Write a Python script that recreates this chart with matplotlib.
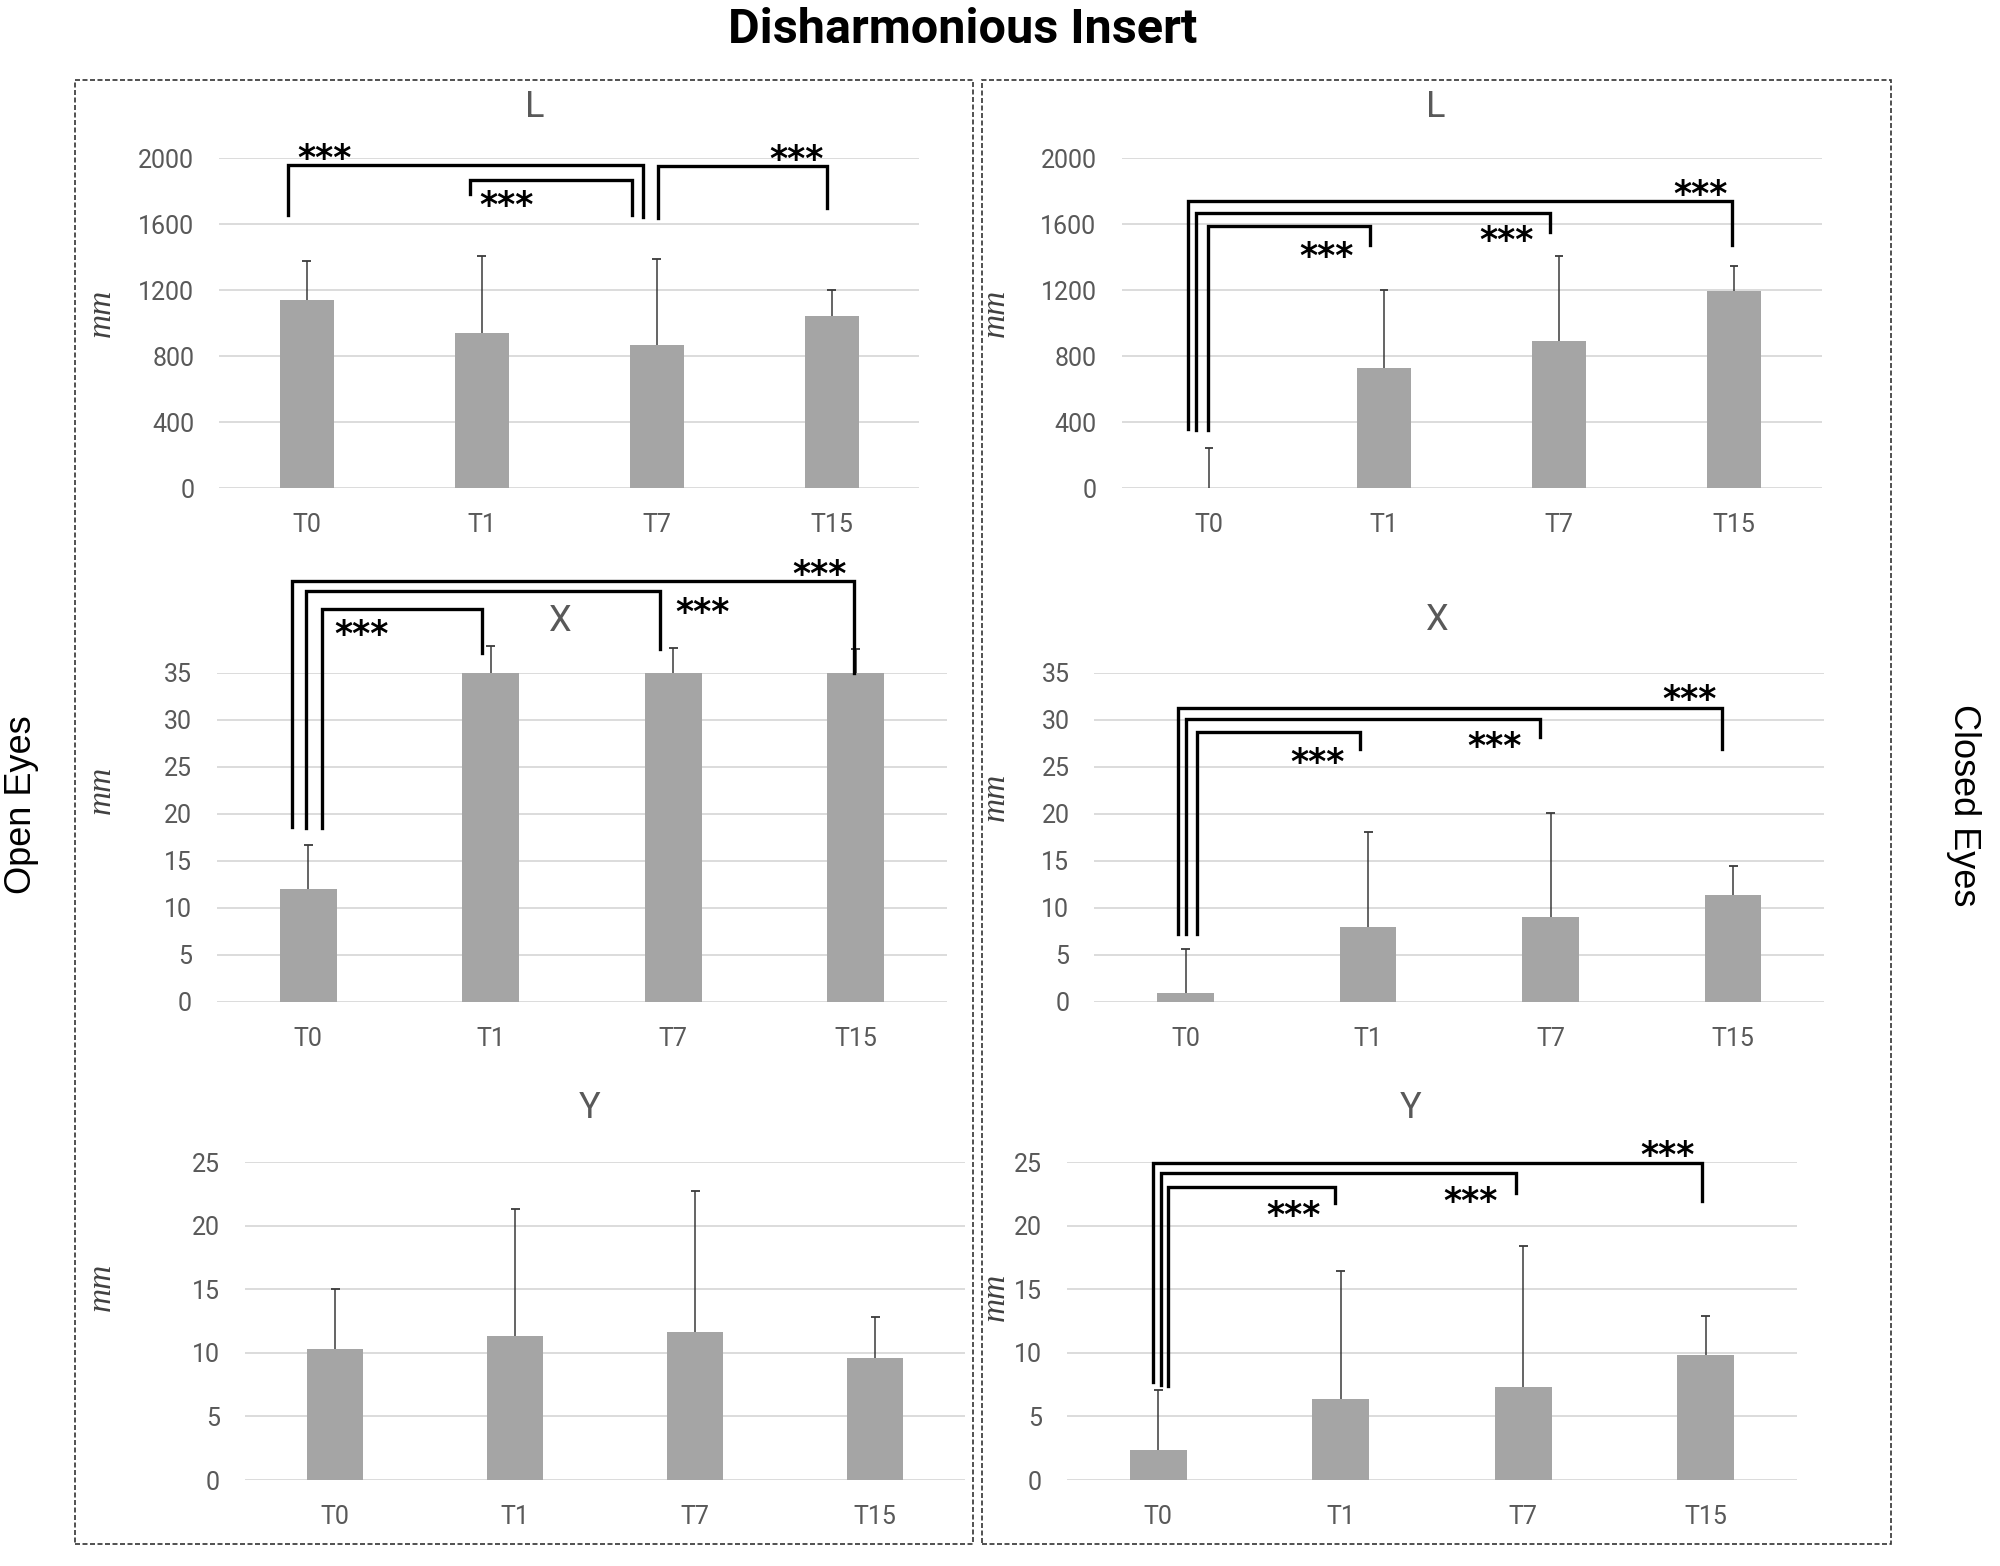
import matplotlib
matplotlib.use("Agg")
import matplotlib.pyplot as plt
from matplotlib import font_manager
from matplotlib.patches import Rectangle
import numpy as np

# categories
times = ["T0", "T1", "T7", "T15"]

# Open eyes (left column)
open_L_mean = [1140, 941, 871, 1046]
open_L_sd = [238, 470, 521, 156]
open_X_mean = [12.0, 35, 35, 35]
open_X_sd = [4.7, 2.9, 2.7, 2.5]
open_Y_mean = [10.3, 11.36, 11.6, 9.63]
open_Y_sd = [4.7, 9.94, 11.1, 3.17]

# Closed eyes (right column)
closed_L_mean = [0, 727, 894, 1196]
closed_L_sd = [242, 475, 517, 153]
closed_X_mean = [0.92, 7.98, 9.04, 11.4]
closed_X_sd = [4.68, 10.12, 11.02, 3.1]
closed_Y_mean = [2.36, 6.4, 7.3, 9.8]
closed_Y_sd = [4.69, 10.0, 11.1, 3.1]

# significance brackets: (x left, y left end, x right, y right end, y top)
open_L_brackets = [(-0.107, 1655, 1.92, 1645, 1960),
                   (0.934, 1784, 1.86, 1657, 1869),
                   (2.007, 1639, 2.97, 1697, 1954)]
open_L_stars = [(0.10, 2052), (1.14, 1770), (2.80, 2046)]
closed_L_brackets = [(-0.12, 361, 2.99, 1478, 1739),
                     (-0.072, 351, 1.95, 1551, 1672),
                     (-0.006, 351, 0.92, 1474, 1589)]
closed_L_stars = [(0.67, 1461), (1.70, 1557), (2.81, 1833)]
open_X_brackets = [(-0.088, 18.65, 2.99, 35.0, 44.8),
                   (-0.01, 18.5, 1.93, 37.6, 43.7),
                   (0.077, 18.5, 0.95, 37.1, 41.8)]
open_X_stars = [(0.29, 40.1), (2.16, 42.4), (2.80, 46.4)]
closed_X_brackets = [(-0.04, 7.2, 2.94, 26.95, 31.26),
                     (0.0, 7.2, 1.94, 28.2, 30.1),
                     (0.06, 7.2, 0.955, 26.9, 28.7)]
closed_X_stars = [(0.72, 26.4), (1.69, 28.1), (2.76, 33.1)]
closed_Y_brackets = [(-0.03, 7.7, 2.98, 21.9, 24.9),
                     (0.017, 7.5, 1.96, 22.6, 24.1),
                     (0.055, 7.4, 0.97, 21.75, 23.0)]
closed_Y_stars = [(0.74, 21.5), (1.71, 22.6), (2.79, 26.2)]

names = {f.name for f in font_manager.fontManager.ttflist}
narrow = "Liberation Sans Narrow" if "Liberation Sans Narrow" in names else "Roboto"

W, H = 2000, 1566
fig = plt.figure(figsize=(W / 100, H / 100), dpi=100)
fig.patch.set_facecolor("white")

TXT = "#595959"
BAR = "#a5a5a5"


def add_ax(x0, x1, ytop, ybot):
    return fig.add_axes([x0 / W, 1 - ybot / H, (x1 - x0) / W, (ybot - ytop) / H])


def panel(ax, means, sds, ymax, step, brackets=(), stars=()):
    x = np.arange(len(times))
    means = np.array(means, dtype=float)
    sds = np.array(sds, dtype=float)
    ax.bar(x, means, width=0.31, color=BAR, zorder=2)
    ax.vlines(x, means, means + sds, color="#3a3a3a", lw=1.1, zorder=3, clip_on=False)
    ax.hlines(means + sds, x - 0.025, x + 0.025, color="#3a3a3a", lw=1.3, zorder=3,
              clip_on=False)
    ax.set_xlim(-0.5, 3.5)
    ax.set_ylim(0, ymax)
    ax.set_yticks(np.arange(0, ymax + step / 2, step))
    ax.set_xticks(x)
    ax.set_xticklabels(times)
    ax.yaxis.grid(True, color="#d9d9d9", lw=1.3)
    ax.set_axisbelow(True)
    for s in ax.spines.values():
        s.set_visible(False)
    ax.tick_params(length=0, colors=TXT, labelsize=18)
    ax.tick_params(axis="y", pad=18)
    ax.tick_params(axis="x", pad=18)
    for lab in ax.get_xticklabels() + ax.get_yticklabels():
        lab.set_family(narrow)
    for x1, y1, x2, y2, top in brackets:
        ax.plot([x1, x1, x2, x2], [y1, top, top, y2], color="black", lw=2.4,
                clip_on=False, zorder=4, solid_joinstyle="miter")
    for sx, sy in stars:
        ax.annotate("***", xy=(sx, sy), xytext=(0, -14), textcoords="offset points",
                    ha="center", va="baseline", fontsize=25, color="black",
                    fontweight="bold", annotation_clip=False)


ax = add_ax(219.3, 919.3, 158.4, 488.3)
panel(ax, open_L_mean, open_L_sd, 2000, 400, open_L_brackets, open_L_stars)
ax = add_ax(1121.5, 1821.5, 158.4, 488.3)
panel(ax, closed_L_mean, closed_L_sd, 2000, 400, closed_L_brackets, closed_L_stars)
ax = add_ax(217, 947, 673, 1002)
panel(ax, open_X_mean, open_X_sd, 35, 5, open_X_brackets, open_X_stars)
ax = add_ax(1094.4, 1824.4, 673, 1002)
panel(ax, closed_X_mean, closed_X_sd, 35, 5, closed_X_brackets, closed_X_stars)
ax = add_ax(245, 965, 1162, 1480)
panel(ax, open_Y_mean, open_Y_sd, 25, 5)
ax = add_ax(1067, 1797, 1162, 1480)
panel(ax, closed_Y_mean, closed_Y_sd, 25, 5, closed_Y_brackets, closed_Y_stars)


def ftext(px, py, s, **kw):
    fig.text(px / W, 1 - py / H, s, ha="center", va="center", **kw)


# panel titles
for px, py, s in [(534.5, 107, "L"), (1435.6, 107, "L"), (560, 621, "X"),
                  (1437, 620, "X"), (590, 1108, "Y"), (1411, 1108, "Y")]:
    ftext(px, py, s, fontsize=26, color=TXT, family=narrow)

# y labels
for px, py in [(102, 313), (996, 313), (102, 790), (996, 797), (102, 1287), (996, 1297)]:
    ftext(px, py, "mm", fontsize=24, color="#404040", family="Liberation Serif",
          style="italic", rotation=90)

ftext(963, 30, "Disharmonious Insert", fontsize=35, fontweight="bold", color="black",
      family=narrow)
ftext(22, 805, "Open Eyes", fontsize=26, color="black", family="Liberation Sans", rotation=90)
ftext(1963, 805, "Closed Eyes", fontsize=26, color="black", family="Liberation Sans",
      rotation=270)

# dashed frames
for x0, x1 in [(75, 973), (982, 1891)]:
    fig.patches.append(Rectangle((x0 / W, 1 - 1544 / H), (x1 - x0) / W, (1544 - 80) / H,
                                 transform=fig.transFigure, fill=False, ec="#333333",
                                 lw=1.2, ls=(0, (3, 1.5))))

fig.savefig("out.png", dpi=100, facecolor="white")
